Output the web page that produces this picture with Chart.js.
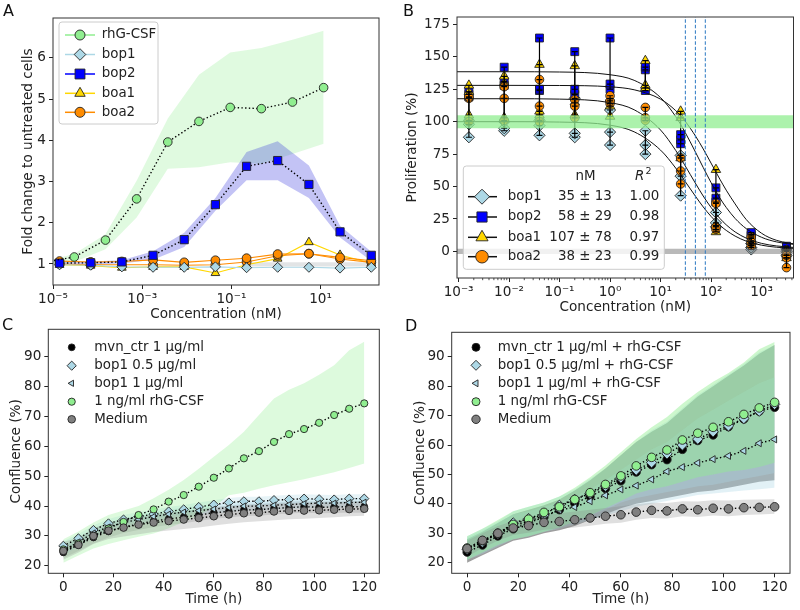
<!DOCTYPE html>
<html>
<head>
<meta charset="utf-8">
<title>Proliferation panels</title>
<script src="https://cdn.jsdelivr.net/npm/chart.js@4.4.1/dist/chart.umd.min.js"></script>
<style>
  html, body { margin: 0; padding: 0; background: #fff; }
  #fig { position: relative; width: 800px; height: 610px; overflow: hidden; }
  #fig canvas { position: absolute; }
  .tag { position: absolute; font: 16px/16px "DejaVu Sans", sans-serif; color: #111; z-index: 2; }
</style>
</head>
<body>
<div id="fig">
  <canvas id="chartA" width="400" height="325" style="left:0;top:0"></canvas>
  <canvas id="chartB" width="400" height="325" style="left:400px;top:0"></canvas>
  <canvas id="chartC" width="400" height="310" style="left:0;top:300px"></canvas>
  <canvas id="chartD" width="400" height="310" style="left:400px;top:300px"></canvas>
  <div class="tag" style="left:3px;top:3px">A</div>
  <div class="tag" style="left:403px;top:3px">B</div>
  <div class="tag" style="left:2px;top:317px">C</div>
  <div class="tag" style="left:405px;top:318px">D</div>
</div>
<script>
// =====================================
// DATA - PANEL A (fold change)
// =====================================

const concRhgA = [6e-6, 3e-5, 1.5e-4, 7.5e-4, 3.75e-3, 1.875e-2, 9.4e-2, 0.47, 2.34, 11.7];
const rhgA    = [1.04, 1.17, 1.58, 2.58, 3.96, 4.46, 4.80, 4.77, 4.93, 5.28];
const rhgA_hi = [1.06, 1.24, 1.72, 3.02, 4.53, 5.59, 6.13, 6.24, 6.44, 6.66];
const rhgA_lo = [0.98, 1.05, 1.36, 2.13, 3.31, 3.35, 3.47, 3.43, 3.67, 3.92];

const concA    = [1.4e-5, 7e-5, 3.5e-4, 1.75e-3, 8.75e-3, 0.0438, 0.219, 1.09, 5.47, 27.3, 137];
const bop2A    = [1.02, 1.03, 1.05, 1.21, 1.59, 2.44, 3.37, 3.51, 2.93, 1.78, 1.21];
const bop2A_hi = [1.05, 1.06, 1.09, 1.31, 1.76, 2.60, 3.72, 3.98, 3.39, 1.93, 1.30];
const bop2A_lo = [0.98, 0.99, 1.01, 1.10, 1.41, 2.29, 3.03, 3.03, 2.60, 1.64, 1.07];
const bop1A    = [0.98, 0.97, 0.93, 0.92, 0.92, 0.93, 0.91, 0.92, 0.92, 0.90, 0.92];
const boa1A    = [0.98, 0.96, 0.91, 0.93, 0.93, 0.78, 0.98, 1.13, 1.53, 1.22, 1.02];
const boa2A    = [1.07, 1.05, 1.06, 1.10, 1.04, 1.09, 1.14, 1.24, 1.25, 1.16, 1.08];
const boa2A_b  = [1.00, 0.98, 0.98, 0.98, 0.97, 0.98, 1.05, 1.20, 1.25, 1.12, 1.04];

const greyBandA_x  = [0.219, 1.09, 5.47, 27.3, 137];
const greyBandA_lo = [0.94, 0.94, 0.94, 0.94, 0.94];
const greyBandA_hi = [1.04, 1.04, 1.04, 1.04, 1.04];

const xTicksA = [1e-5, 1e-3, 1e-1, 10];
const xTickLabelsA = ["10\u207B\u2075", "10\u207B\u00B3", "10\u207B\u00B9", "10\u00B9"];
const yTicksA = [1, 2, 3, 4, 5, 6];
const legendLabelsA = ["rhG-CSF", "bop1", "bop2", "boa1", "boa2"];

// =====================================
// DATA - PANEL B (proliferation)
// =====================================

const concB = [0.0016, 0.008, 0.04, 0.2, 1, 5, 25, 125, 625, 3125];
const bop1B = [[88, 98, 101], [93, 95, 100], [89.5, 97, 101], [88, 91, 118], [82, 92, 109],
               [75, 82, 93], [43, 58, 74], [19, 22, 30], [1.5, 3, 6], [-3, 0, 2]];
const bop2B = [[119, 121, 123], [128, 131, 142], [124, 125, 164.5], [121, 125, 154], [125, 129, 164.5],
               [124, 140, 142], [83, 86, 90], [38, 41, 49], [12, 13, 14.5], [1, 3, 4]];
const boa1B = [[105, 123, 128], [103, 130, 135], [105, 108, 144], [105, 115, 143], [104, 112, 118],
               [126, 128, 147], [72, 103, 108], [15, 20, 63], [5, 8, 10], [-5, -2, 1]];
const boa2B = [[100, 118, 119], [101, 118, 127], [100, 112, 132.5], [103, 112, 117], [114, 116, 120],
               [101, 103, 111], [52, 62, 72], [17, 19, 37], [4.5, 7, 11], [-12.5, -5, -3]];

const fitX    = [0.0005, 0.01, 0.1, 1, 3, 10, 20, 30, 50, 70, 100, 150, 200, 300, 500, 1000, 2000, 6000];
const bop1Fit = [100, 100, 99.7, 97.3, 92.2, 78.1, 64.2, 54.5, 42.1, 34.3, 27.0, 20.1, 16.2, 11.8, 7.9, 4.8, 3.2, 2.0];
const bop2Fit = [138.5, 138.5, 138.3, 136.2, 131.9, 118.6, 103.9, 92.5, 76.0, 64.7, 53.1, 41.1, 33.9, 25.4, 17.5, 10.9, 7.3, 4.8];
const boa1Fit = [128, 128, 127.9, 126.9, 124.6, 117.4, 108.5, 100.9, 88.5, 79.0, 68.1, 55.6, 47.2, 36.6, 24.5, 14.0, 8.5, 5.0];
const boa2Fit = [117.7, 117.7, 117.4, 114.7, 109.2, 93.6, 77.8, 66.7, 52.0, 42.7, 33.9, 25.4, 20.5, 15.0, 10.2, 6.2, 4.2, 2.7];

const vLinesB = [31, 49, 77];
const bandSpanB = [1e-4, 1e5];
const greenBandB = [95, 105];
const greyBandB = [-2, 2];

const xTicksB = [1e-3, 1e-2, 1e-1, 1, 10, 100, 1000];
const xTickLabelsB = ["10\u207B\u00B3", "10\u207B\u00B2", "10\u207B\u00B9", "10\u2070", "10\u00B9", "10\u00B2", "10\u00B3"];
const yTicksB = [0, 25, 50, 75, 100, 125, 150, 175];
const legendLabelsB = ["bop1", "bop2", "boa1", "boa2"];
const ic50LabelsB = ["35 \u00B1 13", "58 \u00B1 29", "107 \u00B1 78", "38 \u00B1 23"];
const r2LabelsB = ["1.00", "0.98", "0.97", "0.99"];

// =====================================
// DATA - PANELS C / D (confluence)
// =====================================

const hours = [0, 6, 12, 18, 24, 30, 36, 42, 48, 54, 60, 66, 72, 78, 84, 90, 96, 102, 108, 114, 120];

const mvnC     = [24.5, 27.0, 29.5, 31.5, 33.0, 34.0, 35.0, 35.7, 36.3, 37.0, 37.8, 38.2, 38.7, 38.8, 39.2, 39.5, 39.8, 39.6, 39.7, 39.8, 39.8];
const mvnC_lo  = [22.5, 25.0, 27.5, 29.5, 31.0, 32.0, 33.0, 33.7, 34.3, 35.0, 35.8, 36.2, 36.7, 36.8, 37.2, 37.5, 37.8, 37.6, 37.7, 37.8, 37.8];
const mvnC_hi  = [26.5, 29.0, 31.5, 33.5, 35.0, 36.0, 37.0, 37.7, 38.3, 39.0, 39.8, 40.2, 40.7, 40.8, 41.2, 41.5, 41.8, 41.6, 41.7, 41.8, 41.8];
const bop05C    = [26.7, 29.2, 32.0, 34.2, 35.5, 36.5, 37.3, 38.2, 38.9, 39.7, 40.5, 41.2, 41.6, 41.6, 42.0, 42.2, 42.5, 42.3, 42.2, 42.5, 42.5];
const bop05C_lo = [25.2, 27.7, 30.5, 32.7, 34.0, 35.0, 35.8, 36.7, 37.4, 38.2, 39.0, 39.7, 40.1, 40.1, 40.5, 40.7, 41.0, 40.8, 40.7, 41.0, 41.0];
const bop05C_hi = [28.2, 30.7, 33.5, 35.7, 37.0, 38.0, 38.8, 39.7, 40.4, 41.2, 42.0, 42.7, 43.1, 43.1, 43.5, 43.7, 44.0, 43.8, 43.7, 44.0, 44.0];
const bop1C    = [25.0, 28.0, 31.0, 33.0, 34.5, 35.5, 36.5, 37.3, 38.0, 38.5, 39.0, 39.5, 40.0, 40.0, 40.3, 40.5, 40.8, 41.0, 41.0, 41.2, 41.3];
const bop1C_lo = [23.5, 26.5, 29.5, 31.5, 33.0, 34.0, 35.0, 35.8, 36.5, 37.0, 37.5, 38.0, 38.5, 38.5, 38.8, 39.0, 39.3, 39.5, 39.5, 39.7, 39.8];
const bop1C_hi = [26.5, 29.5, 32.5, 34.5, 36.0, 37.0, 38.0, 38.8, 39.5, 40.0, 40.5, 41.0, 41.5, 41.5, 41.8, 42.0, 42.3, 42.5, 42.5, 42.7, 42.8];
const rhgC     = [25.5, 27.5, 30.0, 32.5, 34.7, 37.0, 38.9, 41.5, 43.7, 46.5, 49.5, 52.6, 56.0, 58.4, 61.5, 64.1, 65.8, 67.9, 70.5, 72.6, 74.4];
const rhgC_lo  = [21.0, 23.5, 25.8, 27.3, 28.6, 29.7, 30.8, 32.6, 34.7, 37.0, 39.7, 43.6, 44.5, 45.8, 47.0, 48.0, 49.0, 50.2, 51.3, 52.8, 54.3];
const rhgC_hi  = [28.9, 31.5, 34.5, 37.0, 38.5, 40.0, 42.6, 45.5, 48.7, 52.5, 56.5, 60.5, 64.9, 70.5, 76.0, 79.0, 81.1, 84.0, 87.2, 92.2, 95.0];
const medC     = [25.0, 27.0, 30.0, 31.8, 32.8, 33.8, 34.5, 35.0, 35.5, 36.0, 36.6, 37.2, 37.6, 37.8, 38.2, 38.4, 38.5, 38.6, 38.8, 39.0, 39.1];
const medC_lo  = [22.0, 24.5, 27.3, 29.0, 29.8, 30.6, 31.3, 31.8, 32.3, 32.8, 33.5, 34.1, 34.6, 34.9, 35.3, 35.6, 35.8, 36.0, 36.3, 36.6, 36.8];
const medC_hi  = [28.0, 29.5, 32.5, 34.5, 35.5, 36.5, 37.3, 37.9, 38.4, 38.9, 39.5, 40.0, 40.4, 40.6, 40.9, 41.1, 41.2, 41.3, 41.4, 41.5, 41.6];

const mvnD     = [23.6, 26.0, 29.1, 31.5, 33.5, 35.5, 38.0, 40.2, 42.5, 45.2, 47.8, 50.8, 53.3, 55.0, 58.5, 61.5, 63.4, 66.2, 68.8, 71.5, 72.8];
const mvnD_lo  = [20.0, 22.5, 25.0, 27.5, 28.5, 30.0, 31.0, 32.5, 34.5, 36.5, 38.5, 40.0, 41.0, 42.0, 43.0, 44.0, 44.5, 45.5, 46.5, 47.5, 48.0];
const mvnD_hi  = [28.0, 30.5, 33.5, 36.5, 38.0, 39.5, 41.5, 44.5, 48.0, 52.0, 56.5, 61.0, 64.5, 67.5, 72.0, 76.5, 80.0, 83.5, 87.0, 91.0, 94.0];
const bop05D    = [24.6, 27.0, 29.8, 33.5, 35.0, 36.2, 39.5, 41.5, 43.5, 46.0, 48.8, 51.5, 54.0, 57.0, 60.0, 62.0, 64.5, 66.5, 69.0, 71.5, 73.8];
const bop05D_lo = [21.0, 23.0, 25.5, 28.0, 29.0, 30.5, 32.0, 34.0, 36.0, 38.0, 40.5, 42.0, 43.0, 44.0, 45.0, 46.0, 46.5, 47.5, 48.5, 49.5, 50.5];
const bop05D_hi = [29.0, 31.5, 34.0, 37.5, 39.0, 40.5, 42.5, 45.0, 48.5, 52.0, 56.5, 61.0, 65.0, 68.0, 72.5, 77.0, 80.5, 84.0, 87.5, 91.5, 94.0];
const bop1D    = [24.5, 27.0, 30.0, 32.5, 34.0, 36.0, 37.8, 38.9, 40.9, 42.9, 44.9, 46.2, 48.3, 51.0, 52.5, 53.9, 55.2, 56.3, 58.0, 60.6, 61.9];
const bop1D_lo = [21.0, 23.5, 26.0, 28.0, 29.0, 30.5, 31.5, 33.0, 34.5, 36.0, 37.5, 39.0, 40.0, 41.0, 42.0, 43.0, 43.5, 44.0, 44.5, 45.0, 45.5];
const bop1D_hi = [28.5, 31.0, 33.5, 36.5, 37.5, 39.0, 40.5, 42.5, 45.0, 48.0, 51.5, 55.0, 58.5, 61.0, 65.0, 69.0, 72.0, 75.0, 78.0, 81.0, 83.0];
const rhgD     = [25.0, 27.5, 30.0, 33.0, 34.8, 37.1, 39.0, 41.5, 43.8, 46.6, 49.5, 52.9, 55.8, 58.3, 61.7, 64.0, 66.0, 67.9, 70.4, 72.6, 74.5];
const rhgD_lo  = [21.0, 23.5, 26.0, 28.0, 29.0, 30.5, 32.0, 34.0, 36.0, 38.5, 41.0, 43.5, 45.0, 46.0, 47.5, 49.0, 50.0, 51.0, 51.5, 52.5, 54.0];
const rhgD_hi  = [29.0, 31.5, 34.5, 37.5, 39.0, 40.5, 42.5, 45.5, 49.0, 53.0, 57.5, 62.0, 66.0, 69.5, 74.0, 78.0, 81.5, 84.5, 88.0, 92.5, 95.0];
const medD     = [24.8, 27.6, 30.0, 31.8, 32.6, 33.7, 34.0, 34.6, 35.2, 35.8, 36.3, 37.2, 37.8, 37.6, 38.3, 38.0, 38.5, 38.3, 38.7, 38.8, 39.0];
const medD_lo  = [22.0, 25.0, 27.5, 29.4, 30.2, 31.2, 31.5, 32.0, 32.6, 33.2, 33.6, 34.6, 35.2, 35.0, 35.8, 35.5, 36.0, 35.8, 36.2, 36.4, 36.6];
const medD_hi  = [27.5, 30.0, 32.5, 34.2, 35.0, 36.2, 36.8, 37.4, 38.0, 38.6, 39.2, 39.9, 40.4, 40.3, 40.9, 40.8, 41.2, 41.1, 41.4, 41.5, 41.6];

const xTicksT = [0, 20, 40, 60, 80, 100, 120];
const yTicksT = [20, 30, 40, 50, 60, 70, 80, 90];
const legendLabelsC = ["mvn_ctr 1 \u00B5g/ml", "bop1 0.5 \u00B5g/ml", "bop1 1 \u00B5g/ml", "1 ng/ml rhG-CSF", "Medium"];
const legendLabelsD = ["mvn_ctr 1 \u00B5g/ml + rhG-CSF", "bop1 0.5 \u00B5g/ml + rhG-CSF", "bop1 1 \u00B5g/ml + rhG-CSF", "1 ng/ml rhG-CSF", "Medium"];

// =====================================
// STYLE
// =====================================

const LIGHTGREEN = "#90ee90";
const LIGHTBLUE = "#add8e6";
const BLUE = "#0000ff";
const GOLD = "#ffd700";
const ORANGE = "#ff8c00";
const GREY = "#808080";
const INK = "#222";
const FONT = '"DejaVu Sans", sans-serif';
const LEGEND_FONT = "13.4px " + FONT;

Chart.defaults.font.family = FONT;
Chart.defaults.font.size = 13.6;
Chart.defaults.color = INK;

// =====================================
// HELPERS
// =====================================

const pts = (xs, ys) => xs.map((x, i) => ({ x: x, y: ys[i] }));

function bandPair(xs, lo, hi, color) {
    return [
        { data: pts(xs, hi), borderColor: "rgba(0,0,0,0)", borderWidth: 0, pointRadius: 0, fill: "+1", backgroundColor: color },
        { data: pts(xs, lo), borderColor: "rgba(0,0,0,0)", borderWidth: 0, pointRadius: 0, fill: false }
    ];
}

function dottedSeries(xs, ys, shape, color, r, rot) {
    return {
        data: pts(xs, ys),
        borderColor: "#000", borderWidth: 1.4, borderDash: [1.4, 2.3],
        pointStyle: shape, pointRotation: rot || 0, pointRadius: r,
        pointBackgroundColor: color, pointBorderColor: INK, pointBorderWidth: 0.9,
        fill: false
    };
}

function solidSeries(xs, ys, shape, color, r) {
    return {
        data: pts(xs, ys),
        borderColor: color, borderWidth: 1.1,
        pointStyle: shape, pointRadius: r,
        pointBackgroundColor: color, pointBorderColor: INK, pointBorderWidth: 0.9,
        fill: false
    };
}

function xAxis(type, min, max, tickVals, tickLabels, height, title, pad) {
    return {
        type: type, min: min, max: max,
        afterBuildTicks: s => { s.ticks = tickVals.map(v => ({ value: v })); },
        afterFit: s => { s.height = height; },
        border: { display: false },
        grid: { drawOnChartArea: false, tickLength: 4, tickColor: INK, tickWidth: 1 },
        ticks: { autoSkip: false, maxRotation: 0, padding: 2, color: INK, callback: (v, i) => tickLabels[i] },
        title: { display: true, text: title, color: INK, padding: { top: 0, bottom: pad } }
    };
}

function yAxis(min, max, tickVals, width, title, pad) {
    return {
        type: "linear", min: min, max: max,
        afterBuildTicks: s => { s.ticks = tickVals.map(v => ({ value: v })); },
        afterFit: s => { s.width = width; },
        border: { display: false },
        grid: { drawOnChartArea: false, tickLength: 4, tickColor: INK, tickWidth: 1 },
        ticks: { autoSkip: false, padding: 3, color: INK, callback: (v, i) => String(tickVals[i]) },
        title: { display: true, text: title, color: INK, padding: { top: pad, bottom: 0 } }
    };
}

function drawShape(ctx, shape, x, y, r, fill, rot) {
    ctx.beginPath();
    if (shape === "circle") {
        ctx.arc(x, y, r, 0, Math.PI * 2);
    } else if (shape === "rect") {
        const s = r * Math.SQRT1_2;
        ctx.rect(x - s, y - s, 2 * s, 2 * s);
    } else if (shape === "rectRot") {
        ctx.moveTo(x, y - r); ctx.lineTo(x + r, y); ctx.lineTo(x, y + r); ctx.lineTo(x - r, y);
        ctx.closePath();
    } else if (shape === "triangle") {
        const a = (rot || 0) * Math.PI / 180;
        for (let k = 0; k < 3; k++) {
            const t = a + k * 2 * Math.PI / 3;
            const px = x + Math.sin(t) * r, py = y - Math.cos(t) * r;
            if (k) ctx.lineTo(px, py); else ctx.moveTo(px, py);
        }
        ctx.closePath();
    }
    ctx.fillStyle = fill;
    ctx.fill();
    ctx.lineWidth = 0.9;
    ctx.strokeStyle = INK;
    ctx.stroke();
}

// matplotlib style frame around the plot area
const framePlugin = {
    id: "frame",
    afterDraw(chart) {
        const { ctx, chartArea: a } = chart;
        ctx.save();
        ctx.strokeStyle = "#333";
        ctx.lineWidth = 1;
        ctx.strokeRect(a.left, a.top, a.right - a.left, a.bottom - a.top);
        ctx.restore();
    }
};

// small minor ticks for the log axis of panel B
const minorTicksPlugin = {
    id: "minorTicks",
    afterDraw(chart) {
        const sx = chart.scales.x, a = chart.chartArea, ctx = chart.ctx;
        ctx.save();
        ctx.strokeStyle = INK;
        ctx.lineWidth = 0.8;
        ctx.beginPath();
        for (let e = -4; e <= 4; e++) {
            for (let k = 2; k <= 9; k++) {
                const v = k * Math.pow(10, e);
                if (v < sx.min || v > sx.max) continue;
                const px = sx.getPixelForValue(v);
                ctx.moveTo(px, a.bottom);
                ctx.lineTo(px, a.bottom + 2.2);
            }
        }
        ctx.stroke();
        ctx.restore();
    }
};

function roundRect(ctx, x, y, w, h, r) {
    ctx.beginPath();
    ctx.moveTo(x + r, y);
    ctx.arcTo(x + w, y, x + w, y + h, r);
    ctx.arcTo(x + w, y + h, x, y + h, r);
    ctx.arcTo(x, y + h, x, y, r);
    ctx.arcTo(x, y, x + w, y, r);
    ctx.closePath();
}

function legendPlugin(cfg) {
    return {
        id: "mplLegend",
        afterDraw(chart) {
            const ctx = chart.ctx;
            ctx.save();
            if (cfg.box) {
                const b = cfg.box;
                roundRect(ctx, b[0], b[1], b[2] - b[0], b[3] - b[1], 3);
                ctx.fillStyle = "rgba(255,255,255,0.8)";
                ctx.fill();
                ctx.strokeStyle = "#cccccc";
                ctx.lineWidth = 1;
                ctx.stroke();
            }
            ctx.textBaseline = "middle";
            cfg.rows.forEach((row, i) => {
                const y = cfg.rowY[i];
                if (cfg.line) {
                    ctx.strokeStyle = row.lineColor;
                    ctx.lineWidth = 1.5;
                    ctx.beginPath();
                    ctx.moveTo(cfg.line[0], y);
                    ctx.lineTo(cfg.line[1], y);
                    ctx.stroke();
                }
                drawShape(ctx, row.shape, cfg.markerX, y, row.r, row.fill, row.rot);
                ctx.font = LEGEND_FONT;
                ctx.fillStyle = INK;
                ctx.textAlign = "left";
                ctx.fillText(row.label, cfg.textX, y);
                (row.cols || []).forEach(c => {
                    ctx.textAlign = "right";
                    ctx.fillText(c.text, c.x, y);
                });
            });
            if (cfg.header) {
                const h = cfg.header;
                ctx.fillStyle = INK;
                ctx.font = LEGEND_FONT;
                ctx.textAlign = "center";
                ctx.fillText(h.nm, h.nmX, h.y);
                ctx.textAlign = "left";
                ctx.font = "italic " + LEGEND_FONT;
                ctx.fillText("R", h.rX, h.y);
                ctx.font = "9.5px " + FONT;
                ctx.fillText("2", h.rX + 10.5, h.y - 5);
            }
            ctx.restore();
        }
    };
}

function baseOptions(padding, drawTime) {
    return {
        responsive: false,
        animation: false,
        events: [],
        layout: { padding: padding },
        plugins: {
            legend: { display: false },
            tooltip: { enabled: false },
            filler: { drawTime: drawTime }
        }
    };
}

// =====================================
// PANEL A
// =====================================

const optionsA = baseOptions({ top: 18, right: 21, left: 0, bottom: 0 }, "beforeDatasetsDraw");
optionsA.scales = {
    x: xAxis("logarithmic", 1e-5, 204, xTicksA, xTickLabelsA, 40, "Concentration (nM)", 2.5),
    y: yAxis(0.49, 6.97, yTicksA, 53, "Fold change to untreated cells", 20)
};

new Chart(document.getElementById("chartA"), {
    type: "line",
    data: {
        datasets: [
            dottedSeries(concRhgA, rhgA, "circle", LIGHTGREEN, 4.3),
            dottedSeries(concA, bop2A, "rect", BLUE, 5.8),
            solidSeries(concA, bop1A, "rectRot", LIGHTBLUE, 5),
            solidSeries(concA, boa2A, "circle", ORANGE, 4.4),
            solidSeries(concA, boa2A_b, "circle", ORANGE, 4.4),
            solidSeries(concA, boa1A, "triangle", GOLD, 5),
            ...bandPair(concA, bop2A_lo, bop2A_hi, "rgba(40,40,220,0.28)"),
            ...bandPair(greyBandA_x, greyBandA_lo, greyBandA_hi, "rgba(160,165,170,0.3)"),
            ...bandPair(concRhgA, rhgA_lo, rhgA_hi, "rgba(144,238,144,0.28)")
        ]
    },
    options: optionsA,
    plugins: [framePlugin, legendPlugin({
        box: [59, 22, 158, 124],
        line: [65, 95],
        markerX: 80,
        textX: 101.7,
        rowY: [35, 54.5, 74, 93.3, 112.3],
        rows: [
            { label: legendLabelsA[0], shape: "circle", r: 5, fill: LIGHTGREEN, lineColor: LIGHTGREEN },
            { label: legendLabelsA[1], shape: "rectRot", r: 5.8, fill: LIGHTBLUE, lineColor: LIGHTBLUE },
            { label: legendLabelsA[2], shape: "rect", r: 7, fill: BLUE, lineColor: BLUE },
            { label: legendLabelsA[3], shape: "triangle", r: 6, fill: GOLD, lineColor: GOLD },
            { label: legendLabelsA[4], shape: "circle", r: 5, fill: ORANGE, lineColor: ORANGE }
        ]
    })]
});

// =====================================
// PANEL B
// =====================================

function errorData(reps) {
    const out = [];
    concB.forEach((c, i) => {
        reps[i].slice().sort((a, b) => a - b).forEach(v => out.push({ x: c, y: v }));
        out.push({ x: c, y: null });
    });
    return out;
}

function scatterData(reps) {
    return concB.flatMap((c, i) => reps[i].map(v => ({ x: c, y: v })));
}

function errorSet(reps) {
    return {
        data: errorData(reps), borderColor: "#000", borderWidth: 1.2,
        pointStyle: "line", pointRadius: 3, pointBorderColor: "#000", pointBorderWidth: 1.2,
        spanGaps: false, fill: false
    };
}

function markerSet(reps, shape, color, r) {
    return {
        data: scatterData(reps), showLine: false,
        pointStyle: shape, pointRadius: r,
        pointBackgroundColor: color, pointBorderColor: INK, pointBorderWidth: 0.9
    };
}

function fitSet(ys) {
    return { data: pts(fitX, ys), borderColor: "#111", borderWidth: 1, pointRadius: 0, cubicInterpolationMode: "monotone", fill: false };
}

const vLineData = [];
vLinesB.forEach(v => { vLineData.push({ x: v, y: -40 }, { x: v, y: 200 }, { x: v, y: null }); });

const optionsB = baseOptions({ top: 17, right: 3, left: 0, bottom: 0 }, "beforeDatasetDraw");
optionsB.scales = {
    x: xAxis("logarithmic", 9.3e-4, 4300, xTicksB, xTickLabelsB, 47, "Concentration (nM)", 9.5),
    y: yAxis(-20.5, 180.7, yTicksB, 57, "Proliferation (%)", 4.5)
};

new Chart(document.getElementById("chartB"), {
    type: "line",
    data: {
        datasets: [
            { data: vLineData, borderColor: "#2b78c2", borderWidth: 1, borderDash: [3.5, 2], pointRadius: 0, spanGaps: false, fill: false },
            ...bandPair(bandSpanB, [greenBandB[0], greenBandB[0]], [greenBandB[1], greenBandB[1]], "rgba(144,238,144,0.75)"),
            ...bandPair(bandSpanB, [greyBandB[0], greyBandB[0]], [greyBandB[1], greyBandB[1]], "rgba(128,128,128,0.55)"),
            fitSet(bop1Fit), fitSet(bop2Fit), fitSet(boa1Fit), fitSet(boa2Fit),
            errorSet(bop1B), errorSet(bop2B), errorSet(boa1B), errorSet(boa2B),
            markerSet(boa2B, "circle", ORANGE, 4.3),
            markerSet(boa1B, "triangle", GOLD, 5.5),
            markerSet(bop2B, "rect", BLUE, 5.6),
            markerSet(bop1B, "rectRot", LIGHTBLUE, 5.6)
        ]
    },
    options: optionsB,
    plugins: [minorTicksPlugin, framePlugin, legendPlugin({
        box: [63.3, 166, 264.3, 269.3],
        line: [68, 97],
        markerX: 82,
        textX: 107.7,
        rowY: [196.7, 217, 237.3, 256.7],
        header: { y: 176.7, nm: "nM", nmX: 185.5, rX: 235 },
        rows: legendLabelsB.map((lab, i) => ({
            label: lab,
            shape: ["rectRot", "rect", "triangle", "circle"][i],
            r: [7.5, 7.2, 7, 6.3][i],
            fill: [LIGHTBLUE, BLUE, GOLD, ORANGE][i],
            lineColor: "#111",
            cols: [{ text: ic50LabelsB[i], x: 211.7 }, { text: r2LabelsB[i], x: 259.3 }]
        }))
    })]
});

// =====================================
// PANEL C
// =====================================

const optionsC = baseOptions({ top: 29.3, right: 20.7, left: 0, bottom: 0 }, "beforeDatasetsDraw");
optionsC.scales = {
    x: xAxis("linear", -6, 126, xTicksT, xTicksT.map(String), 36.7, "Time (h)", 2),
    y: yAxis(17.5, 99.2, yTicksT, 48.3, "Confluence (%)", 8.5)
};

new Chart(document.getElementById("chartC"), {
    type: "line",
    data: {
        datasets: [
            dottedSeries(hours, medC, "circle", GREY, 3.8),
            dottedSeries(hours, rhgC, "circle", LIGHTGREEN, 3.6),
            dottedSeries(hours, bop1C, "triangle", LIGHTBLUE, 3.6, -90),
            dottedSeries(hours, bop05C, "rectRot", LIGHTBLUE, 4.6),
            dottedSeries(hours, mvnC, "circle", "#000", 3.4),
            ...bandPair(hours, medC_lo, medC_hi, "rgba(128,128,128,0.25)"),
            ...bandPair(hours, rhgC_lo, rhgC_hi, "rgba(144,238,144,0.3)"),
            ...bandPair(hours, bop1C_lo, bop1C_hi, "rgba(173,216,230,0.3)"),
            ...bandPair(hours, bop05C_lo, bop05C_hi, "rgba(173,216,230,0.3)"),
            ...bandPair(hours, mvnC_lo, mvnC_hi, "rgba(0,0,0,0.12)")
        ]
    },
    options: optionsC,
    plugins: [framePlugin, legendPlugin({
        markerX: 71.7,
        textX: 94.3,
        rowY: [47.3, 65.7, 83.3, 101.7, 119.3],
        rows: [
            { label: legendLabelsC[0], shape: "circle", r: 3.4, fill: "#000" },
            { label: legendLabelsC[1], shape: "rectRot", r: 4.6, fill: LIGHTBLUE },
            { label: legendLabelsC[2], shape: "triangle", r: 3.6, fill: LIGHTBLUE, rot: -90 },
            { label: legendLabelsC[3], shape: "circle", r: 3.6, fill: LIGHTGREEN },
            { label: legendLabelsC[4], shape: "circle", r: 3.8, fill: GREY }
        ]
    })]
});

// =====================================
// PANEL D
// =====================================

const optionsD = baseOptions({ top: 32.3, right: 10, left: 0, bottom: 0 }, "beforeDatasetsDraw");
optionsD.scales = {
    x: xAxis("linear", -6, 126, xTicksT, xTicksT.map(String), 36.7, "Time (h)", 2),
    y: yAxis(16.4, 98.3, yTicksT, 51.7, "Confluence (%)", 12.5)
};

new Chart(document.getElementById("chartD"), {
    type: "line",
    data: {
        datasets: [
            dottedSeries(hours, medD, "circle", GREY, 4.3),
            dottedSeries(hours, rhgD, "circle", LIGHTGREEN, 4.3),
            dottedSeries(hours, bop1D, "triangle", LIGHTBLUE, 4, -90),
            dottedSeries(hours, bop05D, "rectRot", LIGHTBLUE, 5.2),
            dottedSeries(hours, mvnD, "circle", "#000", 4.2),
            ...bandPair(hours, medD_lo, medD_hi, "rgba(128,128,128,0.25)"),
            ...bandPair(hours, rhgD_lo, rhgD_hi, "rgba(144,238,144,0.45)"),
            ...bandPair(hours, bop1D_lo, bop1D_hi, "rgba(173,216,230,0.35)"),
            ...bandPair(hours, bop05D_lo, bop05D_hi, "rgba(173,216,230,0.35)"),
            ...bandPair(hours, mvnD_lo, mvnD_hi, "rgba(0,0,0,0.38)")
        ]
    },
    options: optionsD,
    plugins: [framePlugin, legendPlugin({
        markerX: 76,
        textX: 97.7,
        rowY: [47.3, 65.3, 83.3, 101.7, 119.3],
        rows: [
            { label: legendLabelsD[0], shape: "circle", r: 4, fill: "#000" },
            { label: legendLabelsD[1], shape: "rectRot", r: 5, fill: LIGHTBLUE },
            { label: legendLabelsD[2], shape: "triangle", r: 4, fill: LIGHTBLUE, rot: -90 },
            { label: legendLabelsD[3], shape: "circle", r: 4, fill: LIGHTGREEN },
            { label: legendLabelsD[4], shape: "circle", r: 4.2, fill: GREY }
        ]
    })]
});
</script>
</body>
</html>
